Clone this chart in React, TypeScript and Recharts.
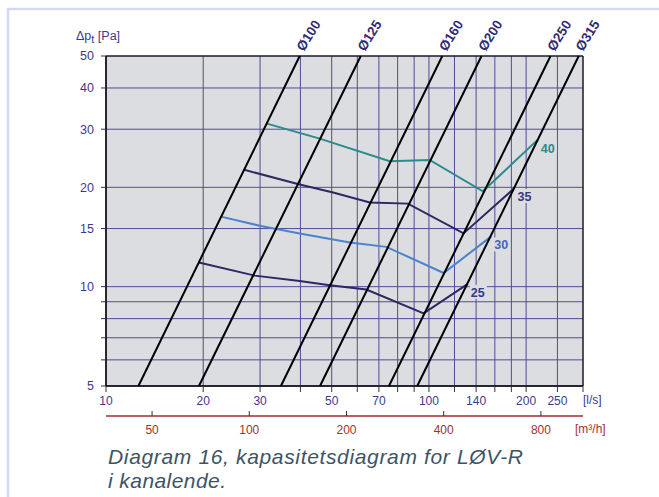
import React from 'react';
import { ComposedChart, Line, XAxis, YAxis, CartesianGrid, ReferenceArea } from 'recharts';

// ---- axis ticks ----
const flowTicks = [10, 20, 30, 40, 50, 60, 70, 80, 90, 100, 120, 140, 160, 180, 200, 250, 300];
const flowLabels = [10, 20, 30, 50, 70, 100, 140, 200, 250];
const paTicks = [5, 6, 7, 8, 9, 10, 15, 20, 30, 40, 50];
const paLabels = [5, 10, 15, 20, 30, 40, 50];
const m3hTicks = [50, 100, 200, 400, 800];
const m3hDomain = [36, 1080];

// ---- duct diameter lines (flow l/s at 5 Pa and at 50 Pa) ----
const diameterNames = ['Ø100', 'Ø125', 'Ø160', 'Ø200', 'Ø250', 'Ø315'];
const diameterFlowAt5Pa = [12.6, 19.4, 34.8, 46.0, 75.2, 92.0];
const diameterFlowAt50Pa = [39.8, 61.5, 110, 145.5, 238, 291];

// ---- sound level curves ----
const curve40Flow = [31.5, 45.9, 75.6, 100.5, 146.9, 217.4];
const curve40Pa = [31.2, 28.1, 24.0, 24.2, 19.45, 27.9];
const curve35Flow = [26.8, 39.8, 50.5, 65.6, 86.1, 128.0, 184.1];
const curve35Pa = [22.6, 20.4, 19.3, 18.0, 17.85, 14.5, 19.9];
const curve30Flow = [22.7, 29.9, 39.8, 56.9, 73.8, 111.1, 156.0];
const curve30Pa = [16.3, 15.3, 14.5, 13.6, 13.2, 11.0, 14.2];
const curve25Flow = [19.4, 28.9, 39.8, 49.3, 64.0, 96.3, 132.0];
const curve25Pa = [11.84, 10.8, 10.4, 10.1, 9.8, 8.3, 10.2];

const FONT = '"Liberation Sans", Arial, Helvetica, sans-serif';
const AXIS_TEXT = '#3d3a8a';
const GRID = '#4f4c96';
const PLOT_BG = '#dcdde0';
const TEAL = '#2a8b8b';
const NAVY = '#2b2862';
const BLUE = '#4a84cc';
const RED = '#a3302e';
const CAPTION = '#3d5466';
const DIA_LABEL = '#302c74';

const toPoints = (flow: number[], pa: number[]) => flow.map((q, i) => ({ q, p: pa[i] }));

const diameterSeries = diameterNames.map((name, i) => ({
  name,
  data: [
    { q: diameterFlowAt5Pa[i], p: 5 },
    { q: diameterFlowAt50Pa[i], p: 50 },
  ],
}));

const curveSeries = [
  { name: '40', color: TEAL, labelColor: TEAL, data: toPoints(curve40Flow, curve40Pa) },
  { name: '35', color: NAVY, labelColor: '#3a3585', data: toPoints(curve35Flow, curve35Pa) },
  { name: '30', color: BLUE, labelColor: '#4566b8', data: toPoints(curve30Flow, curve30Pa) },
  { name: '25', color: NAVY, labelColor: '#3a3585', data: toPoints(curve25Flow, curve25Pa) },
];

// invisible helper series so the m³/h axis has a domain
const m3hAxisData = m3hDomain.map((m) => ({ m, p: 5 }));

const M3hTick = (props: any) => {
  const { x, y, payload } = props;
  return (
    <g>
      <line x1={x} x2={x} y1={y} y2={y - 5} stroke="#333" strokeWidth={1} />
      <text x={x} y={y + 18} textAnchor="middle" fill={RED} fontSize={12} fontFamily={FONT}>
        {payload.value}
      </text>
    </g>
  );
};

export default function App() {
  return (
    <div style={{ position: 'absolute', left: 0, top: 0, width: 659, height: 497, overflow: 'hidden', background: '#fff' }}>
      <svg style={{ position: 'absolute', left: 0, top: 0 }} width={659} height={497}>
        <path d="M8 497 V9 H659" fill="none" stroke="#d3d9ef" strokeWidth={2.5} />
        <text x={76} y={40} fill={AXIS_TEXT} fontSize={12.5} fontFamily={FONT}>
          Δp<tspan dy={3} fontSize={11}>t</tspan>
          <tspan dy={-3}> [Pa]</tspan>
        </text>
        <text x={583} y={404} fill={AXIS_TEXT} fontSize={12} fontFamily={FONT}>[l/s]</text>
        <text x={575} y={433} fill={RED} fontSize={12} fontFamily={FONT}>[m³/h]</text>
        <text x={108} y={464} fill={CAPTION} fontSize={21} fontStyle="italic" fontFamily={FONT} textLength={415} lengthAdjust="spacing">
          Diagram 16, kapasitetsdiagram for LØV-R
        </text>
        <text x={108} y={488} fill={CAPTION} fontSize={21} fontStyle="italic" fontFamily={FONT} textLength={118} lengthAdjust="spacing">
          i kanalende.
        </text>
      </svg>
      <div style={{ position: 'absolute', left: 0, top: 0 }}>
        <ComposedChart width={659} height={497} margin={{ top: 56, right: 76, bottom: 51, left: 56 }}>
          <CartesianGrid stroke={GRID} strokeWidth={1} fill={PLOT_BG} fillOpacity={1} />
          <XAxis
            xAxisId={0}
            dataKey="q"
            type="number"
            scale="log"
            domain={[10, 300]}
            ticks={flowTicks}
            interval={0}
            height={30}
            tickSize={6}
            tickMargin={4}
            axisLine={{ stroke: '#000' }}
            tickLine={{ stroke: '#333' }}
            tick={{ fill: AXIS_TEXT, fontSize: 12, fontFamily: FONT }}
            tickFormatter={(v: number) => (flowLabels.includes(v) ? String(v) : '')}
          />
          <XAxis
            xAxisId="m3h"
            dataKey="m"
            type="number"
            scale="log"
            domain={m3hDomain}
            allowDataOverflow
            ticks={m3hTicks}
            interval={0}
            height={30}
            tickSize={0}
            tickMargin={0}
            axisLine={{ stroke: RED, strokeWidth: 1.5 }}
            tickLine={false}
            tick={(p: any) => <M3hTick {...p} />}
          />
          <YAxis
            dataKey="p"
            type="number"
            scale="log"
            domain={[5, 50]}
            ticks={paTicks}
            interval={0}
            width={50}
            tickSize={5}
            tickMargin={7}
            axisLine={{ stroke: '#000' }}
            tickLine={{ stroke: '#333' }}
            tick={{ fill: AXIS_TEXT, fontSize: 12.5, fontFamily: FONT }}
            tickFormatter={(v: number) => (paLabels.includes(v) ? String(v) : '')}
          />
          <ReferenceArea x1={10} x2={300} y1={5} y2={50} fill="none" stroke="#000" strokeWidth={1} />
          <Line
            xAxisId="m3h"
            data={m3hAxisData}
            dataKey="p"
            stroke="none"
            dot={false}
            activeDot={false}
            isAnimationActive={false}
          />
          {curveSeries.map((c) => (
            <Line
              key={c.name}
              data={c.data}
              dataKey="p"
              type="linear"
              stroke={c.color}
              strokeWidth={2}
              isAnimationActive={false}
              activeDot={false}
              dot={(props: any) => {
                const { cx, cy, index } = props;
                if (index !== c.data.length - 1) return <g key={`d-${c.name}-${index}`} />;
                return (
                  <g key={`d-${c.name}-${index}`}>
                    <rect x={cx + 2} y={cy + 1} width={17} height={14} fill={PLOT_BG} />
                    <text x={cx + 3} y={cy + 13} fill={c.labelColor} fontSize={12.5} fontWeight="bold" fontFamily={FONT}>
                      {c.name}
                    </text>
                  </g>
                );
              }}
            />
          ))}
          {diameterSeries.map((d) => (
            <Line
              key={d.name}
              data={d.data}
              dataKey="p"
              type="linear"
              stroke="#000"
              strokeWidth={2}
              isAnimationActive={false}
              activeDot={false}
              dot={(props: any) => {
                const { cx, cy, index } = props;
                if (index !== 1) return <g key={`dd-${d.name}-${index}`} />;
                const tx = cx + 4;
                const ty = cy - 4;
                return (
                  <text
                    key={`dd-${d.name}-${index}`}
                    x={tx}
                    y={ty}
                    transform={`rotate(-58 ${tx} ${ty})`}
                    fill={DIA_LABEL}
                    fontSize={13.5}
                    fontWeight="bold"
                    fontFamily={FONT}
                  >
                    {d.name}
                  </text>
                );
              }}
            />
          ))}
        </ComposedChart>
      </div>
    </div>
  );
}
